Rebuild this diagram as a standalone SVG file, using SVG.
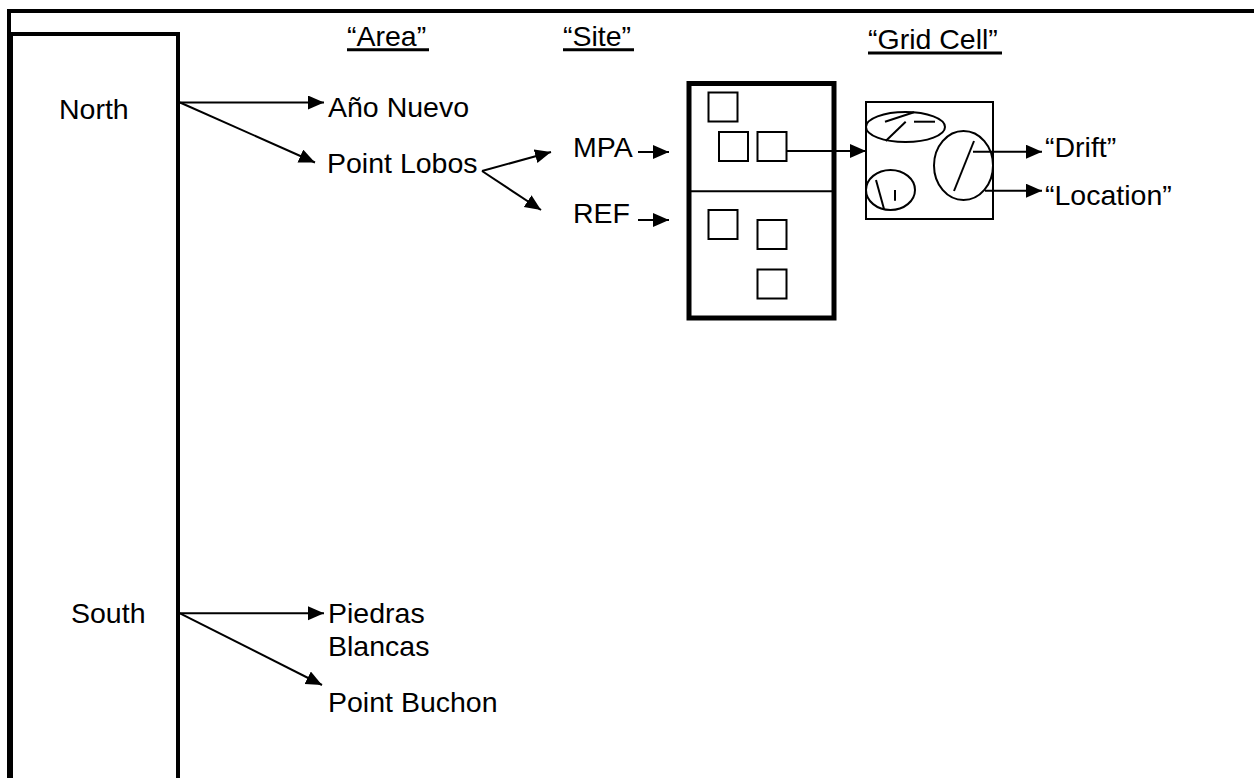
<svg xmlns="http://www.w3.org/2000/svg" width="1254" height="778" viewBox="0 0 1254 778">
<style>
  text { font-family: "Liberation Sans", Arial, sans-serif; font-size: 28.5px; fill: #000; }
  .ln { stroke: #000; stroke-width: 2; fill: none; }
  .thin { stroke: #000; stroke-width: 2; fill: none; }
  .ul { stroke: #000; stroke-width: 3; }
</style>
<defs>
  <marker id="ah" markerUnits="userSpaceOnUse" markerWidth="18" markerHeight="16" refX="16" refY="7" orient="auto">
    <path d="M0,0 L16,7 L0,14 z" fill="#000"/>
  </marker>
</defs>
<rect width="1254" height="778" fill="#fff"/>

<g id="frame">
  <path d="M9,778 V11 H1254" fill="none" stroke="#000" stroke-width="4"/>
</g>

<g id="region-box">
  <rect x="11" y="34" width="167" height="746" fill="none" stroke="#000" stroke-width="4"/>
  <text x="59" y="119">North</text>
  <text x="71" y="623">South</text>
</g>

<g id="headers">
  <text x="347" y="46">“Area”</text>
  <line class="ul" x1="347" y1="49.7" x2="429" y2="49.7"/>
  <text x="563" y="46">“Site”</text>
  <line class="ul" x1="563" y1="49.7" x2="634" y2="49.7"/>
  <text x="868" y="49">“Grid Cell”</text>
  <line class="ul" x1="868" y1="53" x2="1002" y2="53"/>
</g>

<g id="area-ano-nuevo"><text x="328" y="117">Año Nuevo</text></g>
<g id="area-point-lobos"><text x="327" y="173">Point Lobos</text></g>
<g id="area-piedras-blancas"><text x="328" y="623">Piedras</text><text x="328" y="656">Blancas</text></g>
<g id="area-point-buchon"><text x="328" y="712">Point Buchon</text></g>
<g id="site-mpa"><text x="573" y="157">MPA</text></g>
<g id="site-ref"><text x="573" y="223">REF</text></g>

<g id="site-box">
  <rect x="689" y="83.5" width="145" height="234.5" fill="none" stroke="#000" stroke-width="5"/>
  <line class="thin" x1="689" y1="191.3" x2="834" y2="191.3"/>
  <rect class="thin" x="708.5" y="92.5" width="29" height="29"/>
  <rect class="thin" x="719" y="132" width="29" height="29"/>
  <rect class="thin" x="757.5" y="132" width="29" height="29"/>
  <rect class="thin" x="708.5" y="210" width="29" height="29"/>
  <rect class="thin" x="757.5" y="220" width="29" height="29"/>
  <rect class="thin" x="757.5" y="269.5" width="29" height="29"/>
</g>

<g id="grid-cell">
  <rect class="thin" x="866" y="102" width="127" height="117"/>
  <ellipse class="thin" cx="905.5" cy="127" rx="39.5" ry="15"/>
  <line class="thin" x1="885" y1="121.7" x2="914" y2="112.3"/>
  <line class="thin" x1="885.7" y1="141" x2="905.7" y2="121.7"/>
  <line class="thin" x1="914" y1="121.7" x2="935" y2="121.7"/>
  <ellipse class="thin" cx="963.5" cy="165.5" rx="29.5" ry="34.5"/>
  <line class="thin" x1="974" y1="141" x2="954" y2="191"/>
  <ellipse class="thin" cx="890.5" cy="190" rx="24.5" ry="20"/>
  <line class="thin" x1="876" y1="180" x2="884" y2="209"/>
  <line class="thin" x1="895" y1="190" x2="895" y2="200.7"/>
</g>

<g id="drift"><text x="1045" y="157">“Drift”</text></g>
<g id="location"><text x="1045" y="205">“Location”</text></g>

<g id="connectors">
  <line class="ln" x1="180" y1="102.5" x2="324" y2="102.5" marker-end="url(#ah)"/>
  <line class="ln" x1="180" y1="102.5" x2="315" y2="162.5" marker-end="url(#ah)"/>
  <line class="ln" x1="180" y1="613.3" x2="324" y2="613.3" marker-end="url(#ah)"/>
  <line class="ln" x1="180" y1="613.3" x2="322" y2="685" marker-end="url(#ah)"/>
  <line class="ln" x1="482" y1="171" x2="551" y2="152" marker-end="url(#ah)"/>
  <line class="ln" x1="482" y1="171" x2="541" y2="210" marker-end="url(#ah)"/>
  <line class="ln" x1="638" y1="152" x2="669" y2="152" marker-end="url(#ah)"/>
  <line class="ln" x1="638" y1="220" x2="669" y2="220" marker-end="url(#ah)"/>
  <line class="ln" x1="786.5" y1="151" x2="866" y2="151" marker-end="url(#ah)"/>
  <line class="ln" x1="973" y1="151.7" x2="1042" y2="151.7" marker-end="url(#ah)"/>
  <line class="ln" x1="985" y1="190.7" x2="1042" y2="190.7" marker-end="url(#ah)"/>
</g>
</svg>
